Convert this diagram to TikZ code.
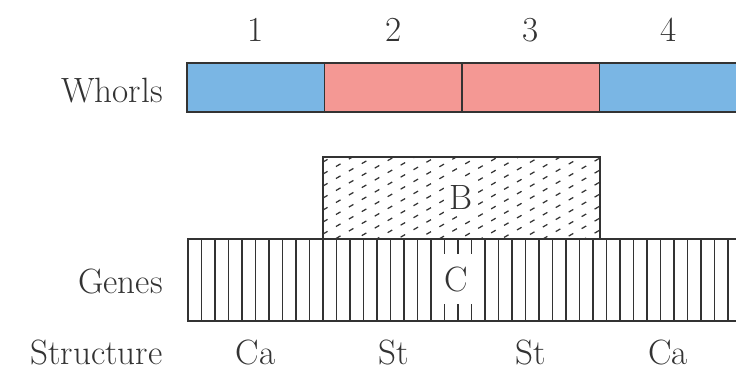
\documentclass[tikz,border=0pt]{standalone}

\definecolor{blueW}{RGB}{122,182,228}
\definecolor{pinkW}{RGB}{244,152,148}
\definecolor{inkgray}{RGB}{51,51,51}

\begin{document}
\begin{tikzpicture}[x=0.02cm,y=-0.02cm,
    lab/.style={font=\fontsize{20}{24}\selectfont, text=inkgray, inner sep=0pt},
    seg/.style={draw=inkgray, line width=0.9pt, minimum width=2.75cm,
        minimum height=0.98cm, inner sep=0pt},
    genebox/.style={draw=inkgray, line width=0.8pt, minimum height=1.64cm, inner sep=0pt},
    stripe/.style={inkgray, line width=0.6pt},
    hatch/.style={inkgray, line width=0.7pt, dash pattern=on 3pt off 5.5pt}]

\useasboundingbox (0,0) rectangle (736,370);

% Whorls
\foreach \i/\x/\c/\s in {1/255.75/blueW/Ca,2/393.25/pinkW/St,3/530.75/pinkW/St,4/668.25/blueW/Ca}
{
    \node[seg, fill=\c] (w\i) at (\x,87.5) {};
    \node[lab, anchor=base] (n\i) at (\x,41) {\i};
    \node[lab, anchor=base] (s\i) at (\x,364) {\s};
}

\node[lab, anchor=base east] (whorls) at (163,102) {Whorls};

% Gene C
\node[genebox, minimum width=11cm] (C) at (463,280) {};
\foreach \x in {201.5,215,...,736}
{
    \draw[stripe] (\x,239) -- (\x,321);
}
\node[lab, fill=white, minimum width=0.68cm, minimum height=1cm] (Clab) at (456,279) {C};

% Gene B
\node[genebox, minimum width=5.54cm, fill=white] (B) at (461.5,198) {};
\begin{scope}
\clip (B.south west) rectangle (B.north east);
\foreach \c in {150,162,...,410}
{
    \draw[hatch] (323,\c) -- (600,\c-160);
}
\end{scope}
\draw[draw=inkgray, line width=0.7pt] (B.south west) rectangle (B.north east);
\node[lab, fill=white, inner sep=3pt] (Blab) at (461,197) {B};

\node[lab, anchor=base east] (genes) at (163,293) {Genes};
\node[lab, anchor=base east] (structure) at (163,364) {Structure};

\end{tikzpicture}
\end{document}
